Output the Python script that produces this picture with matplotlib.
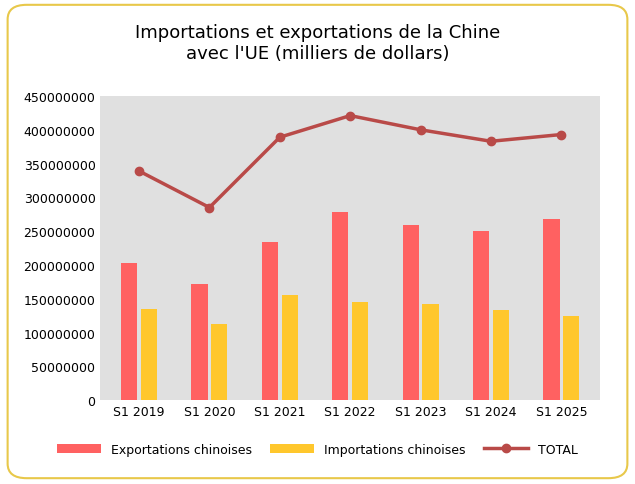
import matplotlib
matplotlib.use("Agg")
import matplotlib.pyplot as plt
from matplotlib.patches import FancyBboxPatch
import numpy as np

categories = ["S1 2019", "S1 2020", "S1 2021", "S1 2022", "S1 2023", "S1 2024", "S1 2025"]
exports = [203e6, 172e6, 234e6, 278e6, 259e6, 250e6, 268e6]
imports = [135e6, 112e6, 155e6, 145e6, 142e6, 133e6, 124e6]
total = [339e6, 285e6, 389e6, 421e6, 400e6, 383e6, 393e6]

fig = plt.figure(figsize=(6.35, 4.85), dpi=100)
fig.patches.append(FancyBboxPatch((0.012, 0.012), 0.976, 0.976, boxstyle="round,pad=0,rounding_size=0.03",
                                  transform=fig.transFigure, fill=False, edgecolor="#E8C84A", linewidth=1.5))
ax = fig.add_axes([0.158, 0.173, 0.787, 0.627])
ax.set_facecolor("#E0E0E0")
x = np.arange(len(categories))
w = 0.23
b1 = ax.bar(x - 0.14, exports, w, color="#FF6161", label="Exportations chinoises")
b2 = ax.bar(x + 0.14, imports, w, color="#FFC72C", label="Importations chinoises")
l1, = ax.plot(x, total, color="#B94A48", lw=2.5, marker="o", ms=6, label="TOTAL")
ax.set_ylim(0, 450e6)
ax.set_xlim(-0.55, 6.55)
ax.set_yticks(np.arange(0, 450e6 + 1, 50e6))
ax.set_yticklabels([str(int(v)) for v in np.arange(0, 450e6 + 1, 50e6)], fontsize=9)
ax.set_xticks(x)
ax.set_xticklabels(categories, fontsize=9)
ax.tick_params(length=0)
for s in ax.spines.values():
    s.set_visible(False)
fig.suptitle("Importations et exportations de la Chine\navec l'UE (milliers de dollars)", y=0.95, fontsize=13)
fig.legend([b1, b2, l1], ["Exportations chinoises", "Importations chinoises", "TOTAL"],
           loc="lower center", ncol=3, frameon=False, fontsize=9, bbox_to_anchor=(0.5, 0.035),
           handlelength=3.5, columnspacing=1.5)
fig.savefig("out.png")
